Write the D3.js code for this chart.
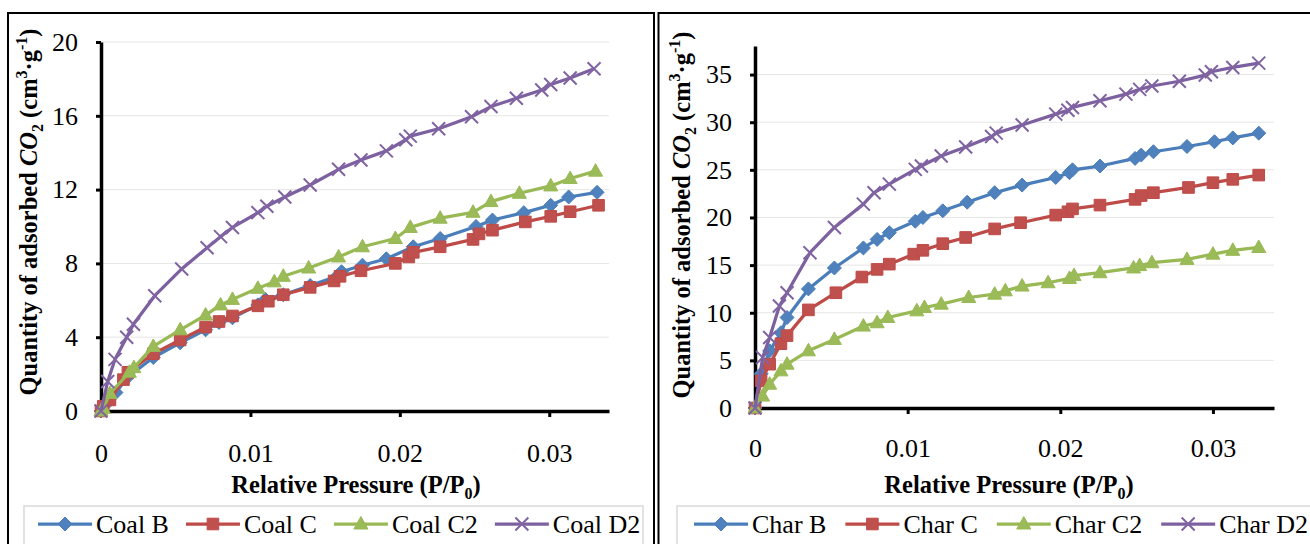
<!DOCTYPE html>
<html>
<head>
<meta charset="utf-8">
<script src="https://cdn.jsdelivr.net/npm/d3@7"></script>
<style>
  body { margin: 0; background: #fff; }
  svg { display: block; }
  text { font-family: "Liberation Serif", "Times New Roman", serif; fill: #000; }
</style>
</head>
<body>
<svg id="chart" width="1310" height="544"></svg>
<script>
// ---- axis ticks ----
const xTicks = [0, 0.01, 0.02, 0.03];
const coalTicks = [0, 4, 8, 12, 16, 20];
const charTicks = [0, 5, 10, 15, 20, 25, 30, 35];

// ---- series names ----
const coalNames = ["Coal B", "Coal C", "Coal C2", "Coal D2"];
const charNames = ["Char B", "Char C", "Char C2", "Char D2"];

// ---- CO2 isotherms: [relative pressure, adsorbed quantity cm3/g] ----
const coalB = [[0,0],[0.0005,0.5],[0.001,1.0],[0.0018,1.85],[0.0035,2.9],[0.0053,3.7],[0.007,4.4],[0.0079,4.8],[0.0088,5.05],[0.0105,5.75],[0.011,6.05],[0.0122,6.3],[0.014,6.8],[0.0158,7.3],[0.0161,7.55],[0.0175,7.9],[0.0191,8.25],[0.0209,8.9],[0.0227,9.35],[0.0251,10.0],[0.0262,10.35],[0.0283,10.75],[0.0301,11.15],[0.0313,11.6],[0.0332,11.85]];
const coalC = [[0,0],[0.00015,0.25],[0.0006,0.6],[0.0015,1.7],[0.0018,2.1],[0.0035,3.1],[0.0053,3.85],[0.007,4.55],[0.0079,4.85],[0.0088,5.15],[0.0105,5.7],[0.0112,5.95],[0.0122,6.3],[0.014,6.7],[0.0156,7.05],[0.016,7.3],[0.0174,7.6],[0.0197,8.0],[0.0206,8.35],[0.0209,8.6],[0.0227,8.9],[0.0249,9.3],[0.0253,9.6],[0.0262,9.8],[0.0284,10.25],[0.0301,10.55],[0.0314,10.8],[0.0333,11.15]];
const coalC2 = [[0,0],[0.00015,0.15],[0.0006,0.95],[0.0019,2.1],[0.0022,2.35],[0.0035,3.5],[0.0053,4.4],[0.007,5.2],[0.008,5.75],[0.0088,6.05],[0.0105,6.65],[0.0116,7.0],[0.0122,7.3],[0.0139,7.75],[0.0159,8.35],[0.0175,8.9],[0.0197,9.35],[0.0207,9.95],[0.0227,10.45],[0.0249,10.77],[0.0261,11.35],[0.028,11.8],[0.0301,12.2],[0.0314,12.6],[0.0331,13.0]];
const coalD2 = [[0,0],[0.00045,1.6],[0.00094,2.8],[0.00172,4.0],[0.00217,4.7],[0.0036,6.25],[0.0054,7.7],[0.0071,8.85],[0.008,9.45],[0.0088,9.95],[0.0105,10.75],[0.0111,11.1],[0.0123,11.6],[0.014,12.25],[0.0159,13.1],[0.0174,13.6],[0.0191,14.1],[0.0204,14.7],[0.0207,14.9],[0.0226,15.3],[0.0248,15.95],[0.0261,16.5],[0.0278,16.95],[0.0295,17.4],[0.0301,17.7],[0.0314,18.05],[0.033,18.55]];

const charB = [[0,0],[0.0004,3.6],[0.00096,6.0],[0.0017,7.9],[0.0021,9.5],[0.0035,12.5],[0.0052,14.7],[0.0071,16.8],[0.008,17.7],[0.0088,18.4],[0.0105,19.6],[0.011,20.0],[0.0123,20.7],[0.0139,21.6],[0.0157,22.6],[0.0175,23.4],[0.0197,24.2],[0.0206,24.7],[0.0208,25.0],[0.0226,25.4],[0.0249,26.2],[0.0253,26.55],[0.0261,26.9],[0.0283,27.45],[0.0301,27.95],[0.0313,28.35],[0.033,28.85]];
const charC = [[0,0],[0.0004,2.85],[0.00096,4.6],[0.0017,6.75],[0.0021,7.6],[0.0035,10.3],[0.0053,12.1],[0.007,13.75],[0.008,14.55],[0.0088,15.1],[0.0104,16.15],[0.011,16.55],[0.0123,17.25],[0.0138,17.9],[0.0157,18.8],[0.0174,19.45],[0.0197,20.25],[0.0205,20.6],[0.0208,20.9],[0.0226,21.3],[0.0249,21.9],[0.0253,22.3],[0.0261,22.6],[0.0284,23.15],[0.03,23.65],[0.0313,24.0],[0.033,24.45]];
const charC2 = [[0,0],[0.0005,1.25],[0.00096,2.5],[0.0017,3.9],[0.0021,4.6],[0.0035,6.0],[0.0052,7.2],[0.0071,8.6],[0.008,8.95],[0.0087,9.5],[0.0106,10.2],[0.0111,10.55],[0.0122,10.9],[0.014,11.6],[0.0157,11.95],[0.0164,12.3],[0.0175,12.8],[0.0192,13.15],[0.0206,13.6],[0.0209,13.9],[0.0226,14.2],[0.0248,14.7],[0.0252,14.95],[0.026,15.25],[0.0283,15.6],[0.03,16.15],[0.0313,16.55],[0.033,16.85]];
const charD2 = [[0,0],[0.0005,5.3],[0.00096,7.4],[0.0016,10.7],[0.0021,12.1],[0.0036,16.3],[0.0052,18.95],[0.0071,21.4],[0.0078,22.6],[0.0088,23.5],[0.0105,25.05],[0.0109,25.4],[0.0122,26.45],[0.0138,27.4],[0.0155,28.5],[0.0158,28.85],[0.0175,29.7],[0.0197,30.85],[0.0205,31.25],[0.0208,31.55],[0.0226,32.25],[0.0243,32.95],[0.0252,33.45],[0.026,33.8],[0.0278,34.3],[0.0295,34.95],[0.0299,35.3],[0.0313,35.75],[0.033,36.2]];

// ---- styling ----
const lineColors = ["#4A7EBB", "#BE4B48", "#98B954", "#7D60A0"];
const markColors = ["#4F81BD", "#C0504D", "#9BBB59", "#8064A2"];
const markerShapes = [
  "M0,-7L7,0L0,7L-7,0Z",                 // diamond
  "M-5.8,-5.8h11.6v11.6h-11.6Z",          // square
  "M0,-7.5L7,5L-7,5Z",                    // triangle
  "M-6.5,-6.5L6.5,6.5M-6.5,6.5L6.5,-6.5"  // cross
];
const FONT = 26;
const TITLE_FONT = 24.5;

const svg = d3.select("#chart");

function drawMarker(sel, i) {
  const p = sel.append("path").attr("d", markerShapes[i]);
  if (i === 3) {
    p.attr("fill", "none").attr("stroke", markColors[i]).attr("stroke-width", 2);
  } else {
    p.attr("fill", markColors[i]).attr("stroke", lineColors[i]).attr("stroke-width", 1);
  }
  return p;
}

function drawPanel(cfg) {
  const g = svg.append("g");
  const x = d3.scaleLinear().domain([0, 0.034]).range(cfg.xRange);
  const y = d3.scaleLinear().domain([0, cfg.yMax]).range(cfg.yRange);

  // outer frame
  g.append("rect")
    .attr("x", cfg.frame[0]).attr("y", cfg.frame[1])
    .attr("width", cfg.frame[2]).attr("height", 600)
    .attr("fill", "none").attr("stroke", "#000").attr("stroke-width", 2);

  // horizontal gridlines
  g.append("g").selectAll("line")
    .data(cfg.yTicks.filter(d => d > 0))
    .join("line")
    .attr("x1", x(0)).attr("x2", x(0.034))
    .attr("y1", d => y(d)).attr("y2", d => y(d))
    .attr("stroke", "#e6e6e6").attr("stroke-width", 1);

  // x axis
  const gx = g.append("g")
    .attr("transform", `translate(0,${y(0)})`)
    .call(d3.axisBottom(x).tickValues(xTicks)
      .tickFormat(d => d === 0 ? "0" : d3.format(".2f")(d))
      .tickSize(6).tickSizeOuter(0));
  gx.selectAll("text").attr("y", cfg.xLabelDy).attr("dy", 0);

  // y axis
  const gy = g.append("g")
    .attr("transform", `translate(${x(0)},0)`)
    .call(d3.axisLeft(y).tickValues(cfg.yTicks)
      .tickSize(5).tickSizeOuter(0).tickPadding(18));

  [gx, gy].forEach(a => {
    a.attr("font-family", null).attr("font-size", FONT);
    a.select(".domain").attr("stroke", "#000").attr("stroke-width", 3.5);
    a.selectAll(".tick line").attr("stroke", "#000").attr("stroke-width", 3);
  });

  // series
  const line = d3.line().x(d => x(d[0])).y(d => y(d[1]));
  cfg.series.forEach((s, i) => {
    g.append("path").datum(s)
      .attr("d", line)
      .attr("fill", "none").attr("stroke", lineColors[i])
      .attr("stroke-width", 3.25).attr("stroke-linejoin", "round");
    const mg = g.append("g");
    s.forEach(d => {
      const m = mg.append("g").attr("transform", `translate(${x(d[0])},${y(d[1])})`);
      drawMarker(m, i);
    });
  });

  // x title
  const xt = g.append("text")
    .attr("x", cfg.xTitleX).attr("y", cfg.xTitleY)
    .attr("text-anchor", "middle").attr("font-weight", "bold").attr("font-size", TITLE_FONT);
  xt.append("tspan").text("Relative Pressure (P/P");
  xt.append("tspan").attr("font-size", 16).attr("dy", 6).text("0");
  xt.append("tspan").attr("dy", -6).text(")");

  // y title
  const yt = g.append("text")
    .attr("transform", `translate(${cfg.yTitleX},${cfg.yTitleY}) rotate(-90)`)
    .attr("text-anchor", "middle").attr("font-weight", "bold").attr("font-size", TITLE_FONT);
  yt.append("tspan").text("Quantity of adsorbed ");
  yt.append("tspan").attr("font-style", "italic").text("CO");
  yt.append("tspan").attr("font-size", 16).attr("dy", 6).text("2");
  yt.append("tspan").attr("dy", -6).text(" (cm");
  yt.append("tspan").attr("font-size", 16).attr("dy", -10).text("3");
  yt.append("tspan").attr("dy", 10).text("\u00B7g");
  yt.append("tspan").attr("font-size", 16).attr("dy", -10).text("-1");
  yt.append("tspan").attr("dy", 10).text(")");

  // legend
  const lg = g.append("g");
  lg.append("rect")
    .attr("x", cfg.legendBox[0]).attr("y", cfg.legendBox[1])
    .attr("width", cfg.legendBox[2]).attr("height", 80)
    .attr("fill", "#fff").attr("stroke", "#d9d9d9").attr("stroke-width", 1.5);
  let lx = cfg.legendStart;
  const ly = cfg.legendY;
  cfg.names.forEach((name, i) => {
    lg.append("line")
      .attr("x1", lx).attr("x2", lx + 54).attr("y1", ly).attr("y2", ly)
      .attr("stroke", lineColors[i]).attr("stroke-width", 3.25);
    drawMarker(lg.append("g").attr("transform", `translate(${lx + 27},${ly})`), i);
    const t = lg.append("text")
      .attr("x", lx + 58).attr("y", ly + 9)
      .attr("font-size", FONT).text(name);
    lx = lx + 58 + t.node().getComputedTextLength() + cfg.legendGap;
  });
}

drawPanel({
  frame: [8, 13, 646],
  xRange: [101, 609],
  yRange: [411, 42],
  yMax: 20,
  yTicks: coalTicks,
  xLabelDy: 51,
  series: [coalB, coalC, coalC2, coalD2],
  names: coalNames,
  xTitleX: 356, xTitleY: 493,
  yTitleX: 37, yTitleY: 212,
  legendBox: [24, 506, 619],
  legendStart: 38, legendY: 524, legendGap: 17
});

drawPanel({
  frame: [658.5, 13, 700],
  xRange: [755, 1274],
  yRange: [408, 46],
  yMax: 38,
  yTicks: charTicks,
  xLabelDy: 49,
  series: [charB, charC, charC2, charD2],
  names: charNames,
  xTitleX: 1009, xTitleY: 493,
  yTitleX: 690, yTitleY: 215,
  legendBox: [677, 506, 700],
  legendStart: 694, legendY: 524, legendGap: 19
});
</script>
</body>
</html>
